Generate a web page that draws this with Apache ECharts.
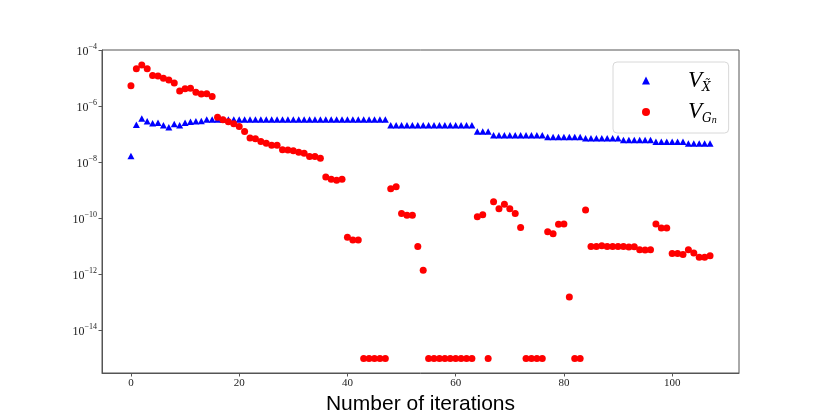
<!DOCTYPE html>
<html>
<head>
<meta charset="utf-8">
<script src="https://cdn.jsdelivr.net/npm/echarts@6/dist/echarts.min.js"></script>
<style>html,body{margin:0;padding:0;background:#fff}#c{width:822px;height:420px}</style>
</head>
<body>
<div id="c"></div>
<script>
var iterations = [];
for (var k = 0; k <= 107; k++) iterations.push(k);

var vX = [
 1.7e-8, 2.2e-7, 3.7e-7, 2.9e-7, 2.5e-7, 2.6e-7, 2.1e-7, 1.8e-7, 2.35e-7, 2.1e-7,
 2.6e-7, 2.8e-7, 2.95e-7, 3.0e-7, 3.4e-7, 3.4e-7, 3.4e-7, 3.4e-7, 3.4e-7, 3.4e-7,
 3.4e-7, 3.4e-7, 3.4e-7, 3.4e-7, 3.4e-7, 3.4e-7, 3.4e-7, 3.4e-7, 3.4e-7, 3.4e-7,
 3.4e-7, 3.4e-7, 3.4e-7, 3.4e-7, 3.4e-7, 3.4e-7, 3.4e-7, 3.4e-7, 3.4e-7, 3.4e-7,
 3.4e-7, 3.4e-7, 3.4e-7, 3.4e-7, 3.4e-7, 3.4e-7, 3.4e-7, 3.4e-7, 2.1e-7, 2.1e-7,
 2.1e-7, 2.1e-7, 2.1e-7, 2.1e-7, 2.1e-7, 2.1e-7, 2.1e-7, 2.1e-7, 2.1e-7, 2.1e-7,
 2.1e-7, 2.1e-7, 2.1e-7, 2.1e-7, 1.26e-7, 1.26e-7, 1.26e-7, 9.3e-8, 9.3e-8, 9.3e-8,
 9.3e-8, 9.3e-8, 9.3e-8, 9.3e-8, 9.3e-8, 9.3e-8, 9.3e-8, 8.1e-8, 8.1e-8, 8.1e-8,
 8.1e-8, 8.1e-8, 8.1e-8, 8.1e-8, 7.2e-8, 7.2e-8, 7.2e-8, 7.2e-8, 7.2e-8, 7.2e-8,
 7.2e-8, 6.3e-8, 6.3e-8, 6.3e-8, 6.3e-8, 6.3e-8, 6.3e-8, 5.4e-8, 5.4e-8, 5.4e-8,
 5.4e-8, 5.4e-8, 5.4e-8, 4.7e-8, 4.7e-8, 4.7e-8, 4.7e-8, 4.7e-8
];

var vG = [
 5.4e-6, 2.2e-5, 3.0e-5, 2.2e-5, 1.26e-5, 1.2e-5, 1.0e-5, 8.7e-6, 6.8e-6, 3.5e-6,
 4.2e-6, 4.4e-6, 3.2e-6, 2.75e-6, 2.8e-6, 2.24e-6, 4.1e-7, 3.3e-7, 2.8e-7, 2.4e-7,
 1.9e-7, 1.26e-7, 7.4e-8, 6.9e-8, 5.6e-8, 4.8e-8, 4.1e-8, 4.1e-8, 2.8e-8, 2.75e-8,
 2.6e-8, 2.3e-8, 2.1e-8, 1.6e-8, 1.6e-8, 1.4e-8, 3.0e-9, 2.5e-9, 2.3e-9, 2.5e-9,
 2.1e-11, 1.7e-11, 1.7e-11, 1e-15, 1e-15, 1e-15, 1e-15, 1e-15, 1.15e-9, 1.35e-9,
 1.5e-10, 1.3e-10, 1.3e-10, 1.0e-11, 1.4e-12, 1e-15, 1e-15, 1e-15, 1e-15, 1e-15,
 1e-15, 1e-15, 1e-15, 1e-15, 1.15e-10, 1.35e-10, 1e-15, 3.9e-10, 2.2e-10, 3.2e-10,
 2.2e-10, 1.5e-10, 4.7e-11, 1e-15, 1e-15, 1e-15, 1e-15, 3.3e-11, 2.8e-11, 6.2e-11,
 6.3e-11, 1.55e-13, 1e-15, 1e-15, 2.0e-10, 1.0e-11, 1.0e-11, 1.05e-11, 1.0e-11, 1.0e-11,
 1.0e-11, 1.0e-11, 9.5e-12, 9.6e-12, 7.6e-12, 7.4e-12, 7.6e-12, 6.3e-11, 4.5e-11, 4.5e-11,
 5.6e-12, 5.6e-12, 5.1e-12, 7.6e-12, 5.8e-12, 4.1e-12, 4.1e-12, 4.6e-12
];

var xTicks = [0, 20, 40, 60, 80, 100];
var yTicks = [1e-14, 1e-12, 1e-10, 1e-8, 1e-6, 1e-4];
var xLabel = 'Number of iterations';

function pairs(ys) {
  var out = [];
  for (var i = 0; i < iterations.length; i++) out.push([iterations[i], ys[i]]);
  return out;
}

var chart = echarts.init(document.getElementById('c'), null, {renderer: 'canvas'});
var serif = "'Liberation Serif', 'DejaVu Serif', serif";
chart.setOption({
  animation: false,
  backgroundColor: '#ffffff',
  grid: {left: 102, top: 50, width: 637, height: 323, show: true, borderColor: '#555', borderWidth: 1, backgroundColor: 'transparent'},
  xAxis: {
    type: 'value', min: -5.35, max: 112.35,
    name: xLabel, nameLocation: 'middle', nameGap: 14,
    nameTextStyle: {fontFamily: "'Liberation Sans', 'DejaVu Sans', sans-serif", fontSize: 21, color: '#000', verticalAlign: 'top'},
    axisLine: {show: true, onZero: false, lineStyle: {color: '#555', width: 1}},
    axisTick: {show: true, inside: false, length: 3.5, lineStyle: {color: '#555'}, customValues: xTicks},
    axisLabel: {show: true, margin: 5, fontFamily: serif, fontSize: 11, color: '#222', customValues: xTicks},
    splitLine: {show: false}
  },
  yAxis: {
    type: 'log', logBase: 10, min: Math.pow(10, -15.52), max: Math.pow(10, -3.99),
    axisLine: {show: true, onZero: false, lineStyle: {color: '#555', width: 1}},
    axisTick: {show: true, inside: false, length: 3.5, lineStyle: {color: '#555'}, customValues: yTicks},
    axisLabel: {
      show: true, margin: 5, color: '#222', customValues: yTicks,
      formatter: function (v) {
        var e = Math.round(Math.log10(v));
        return '{b|10}{s|' + (e < 0 ? '\u2212' + (-e) : e) + '}';
      },
      rich: {
        b: {fontFamily: serif, fontSize: 12, lineHeight: 15, verticalAlign: 'bottom', color: '#222'},
        s: {fontFamily: serif, fontSize: 8, lineHeight: 8, verticalAlign: 'top', color: '#222'}
      }
    },
    splitLine: {show: false}
  },
  legend: {
    show: true, orient: 'vertical', left: 613, top: 62,
    padding: [7, 12, 8, 29], itemGap: 7, itemWidth: 8, itemHeight: 8,
    backgroundColor: 'rgba(255,255,255,0.8)', borderColor: '#d8d8d8', borderWidth: 1, borderRadius: 4,
    data: [{name: 'VX', icon: 'triangle'}, {name: 'VG', icon: 'circle'}],
    formatter: function (name) {
      return name === 'VX' ? '{v|V}{s|X\u0303}' : '{v|V}{s|G}{n|n}';
    },
    textStyle: {
      rich: {
        v: {fontFamily: serif, fontStyle: 'italic', fontSize: 23, lineHeight: 26, verticalAlign: 'middle', color: '#000', padding: [0, 0, 0, 33]},
        s: {fontFamily: "'DejaVu Serif', serif", fontStyle: 'italic', fontSize: 12, lineHeight: 14, verticalAlign: 'bottom', color: '#000'},
        n: {fontFamily: serif, fontStyle: 'italic', fontSize: 10, lineHeight: 10, verticalAlign: 'bottom', color: '#000'}
      }
    }
  },
  series: [
    {name: 'VX', type: 'scatter', symbol: 'triangle', symbolSize: [7, 6.5], itemStyle: {color: '#0000ff', opacity: 1}, data: pairs(vX)},
    {name: 'VG', type: 'scatter', symbol: 'circle', symbolSize: 7, itemStyle: {color: '#ff0000', opacity: 1}, data: pairs(vG)}
  ]
});
</script>
</body>
</html>
